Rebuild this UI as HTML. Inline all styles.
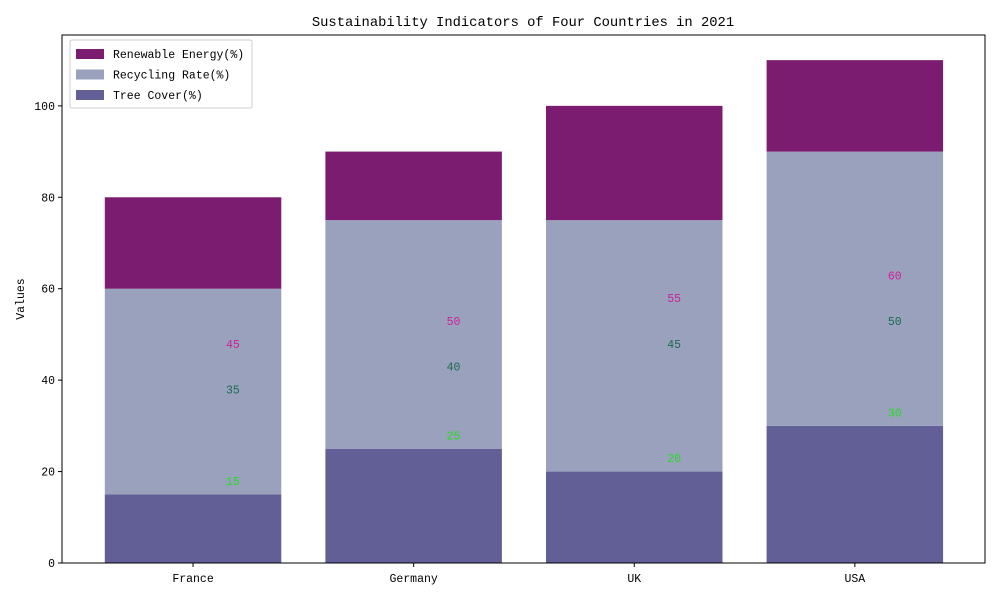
<!DOCTYPE html>
<html><head><meta charset="utf-8">
<style>
body{margin:0;background:#fff;}
svg text{font-family:"WenQuanYi Zen Hei Mono","Liberation Mono",monospace;}
</style></head>
<body>
<svg id="chart" width="1000" height="600" xmlns="http://www.w3.org/2000/svg"></svg>
<script>
const categories=["France","Germany","UK","USA"];
const treeCover=[15,25,20,30];
const recycling=[45,50,55,60];
const renewable=[20,15,25,20];
const yTicks=[0,20,40,60,80,100];

const svg=document.getElementById('chart');
const NS="http://www.w3.org/2000/svg";
const L=62,R=985,T=35,B=563;
const xMin=-0.594,xMax=3.59,yMax=115.5;
const sx=v=>L+(v-xMin)/(xMax-xMin)*(R-L);
const sy=v=>B-v/yMax*(B-T);
const bw=0.8*(R-L)/(xMax-xMin);
function mk(tag,attrs,text){const e=document.createElementNS(NS,tag);for(const k in attrs)e.setAttribute(k,attrs[k]);if(text!==undefined)e.textContent=text;svg.appendChild(e);return e;}

let t=mk('text',{x:523,y:26,'text-anchor':'middle','font-size':13.8},'Sustainability Indicators of Four Countries in 2021');



categories.forEach((c,i)=>{
  const segs=[[0,treeCover[i],'#625e96','tree-cover'],[treeCover[i],treeCover[i]+recycling[i],'#9aa1bc','recycling-rate'],[treeCover[i]+recycling[i],treeCover[i]+recycling[i]+renewable[i],'#7b1c71','renewable-energy']];
  segs.forEach(s=>{
    const r=mk('rect',{x:sx(i)-bw/2,y:sy(s[1]),width:bw,height:sy(s[0])-sy(s[1]),fill:s[2]});
    
    
  });
  const labs=[[treeCover[i],'#22dd22'],[treeCover[i]+renewable[i],'#1a6a50'],[recycling[i],'#cc2299']];
  labs.forEach(l=>{
    const e=mk('text',{x:sx(i)+33,y:sy(l[0]+2.5)+2,'font-size':11.5,fill:l[1]},String(l[0]));
    
    
  });
  mk('line',{x1:sx(i),x2:sx(i),y1:B,y2:B+4,stroke:'#000'});
  const xl=mk('text',{x:sx(i),y:B+19,'text-anchor':'middle','font-size':11.5},c);
  
  
});

yTicks.forEach(v=>{
  mk('line',{x1:L-4,x2:L,y1:sy(v),y2:sy(v),stroke:'#000'});
  const yl=mk('text',{x:L-7,y:sy(v)+4,'text-anchor':'end','font-size':11.5},String(v));
  
  
});
const fr=mk('rect',{x:L,y:T,width:R-L,height:B-T,fill:'none',stroke:'#000','stroke-width':1});


const yt=mk('text',{x:24,y:299,'text-anchor':'middle','font-size':11.5,transform:'rotate(-90 24 299)'},'Values');



const lg=mk('rect',{x:70,y:40,width:182,height:68,fill:'#fff',stroke:'#ccc',rx:2});


[['Renewable Energy(%)','#7b1c71'],['Recycling Rate(%)','#9aa1bc'],['Tree Cover(%)','#625e96']].forEach((e,k)=>{
  const y=54+k*20.5;
  mk('rect',{x:76,y:y-5,width:28,height:10,fill:e[1]});
  const lt=mk('text',{x:113,y:y+4,'font-size':11.5},e[0]);
  
  
});
</script>
</body></html>
